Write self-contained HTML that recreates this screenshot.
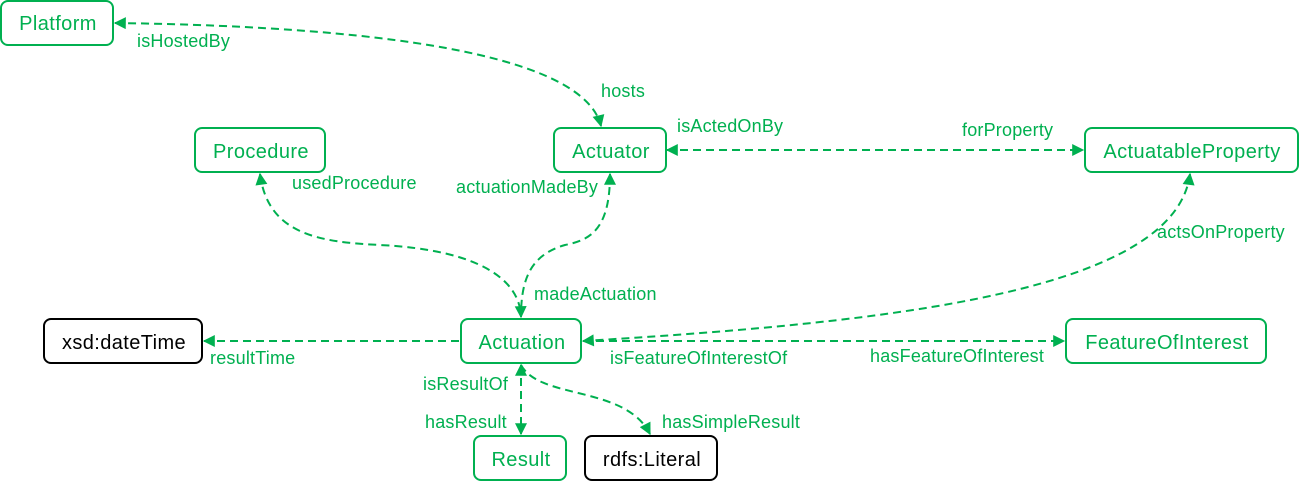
<!DOCTYPE html>
<html><head><meta charset="utf-8">
<style>
html,body{margin:0;padding:0;background:#fff;}
svg{display:block;font-family:"Liberation Sans",Arial,sans-serif;}
</style></head><body>
<svg width="1310" height="482" viewBox="0 0 1310 482" xmlns="http://www.w3.org/2000/svg">
<defs>
<marker id="a" viewBox="0 0 10 10" refX="9" refY="5" markerWidth="13" markerHeight="12" markerUnits="userSpaceOnUse" orient="auto-start-reverse">
<path d="M0,0 L10,5 L0,10 z" fill="#00b050"/>
</marker>
</defs>
<g fill="none" stroke="#00b050" stroke-width="2" stroke-dasharray="8,5">
<path d="M115,23 C410,27 585,60 601,126" marker-start="url(#a)" marker-end="url(#a)"/>
<path d="M667,150 L1083,150" marker-start="url(#a)" marker-end="url(#a)"/>
<path d="M260,174 C268,235 320,242 380,245 C480,250 520,280 521,317" marker-start="url(#a)" marker-end="url(#a)"/>
<path d="M610,174 C610,230 590,240 565,245 C530,255 521,280 521,317"/>
<path d="M610,174 L610,176" marker-start="url(#a)"/>
<path d="M1190,174 C1175,290 900,322 583,341" marker-start="url(#a)" marker-end="url(#a)"/>
<path d="M459,341 L204,341" marker-end="url(#a)"/>
<path d="M583,341 L1064,341" marker-end="url(#a)"/>
<path d="M521,365 L521,434" marker-start="url(#a)" marker-end="url(#a)"/>
<path d="M521,365 C540,400 625,385 650,434" marker-end="url(#a)"/>
</g>
<g fill="#fff" stroke-width="2">
<rect x="1" y="1" width="112" height="44" rx="7" stroke="#00b050"/>
<rect x="195" y="128" width="130" height="44" rx="7" stroke="#00b050"/>
<rect x="554" y="128" width="112" height="44" rx="7" stroke="#00b050"/>
<rect x="1085" y="128" width="213" height="44" rx="7" stroke="#00b050"/>
<rect x="44" y="319" width="158" height="44" rx="7" stroke="#000"/>
<rect x="461" y="319" width="120" height="44" rx="7" stroke="#00b050"/>
<rect x="1066" y="319" width="200" height="44" rx="7" stroke="#00b050"/>
<rect x="474" y="436" width="92" height="44" rx="7" stroke="#00b050"/>
<rect x="585" y="436" width="132" height="44" rx="7" stroke="#000"/>
</g>
<g font-size="20" text-anchor="middle" fill="#00b050" letter-spacing="0.4">
<text x="58" y="30">Platform</text>
<text x="261" y="158">Procedure</text>
<text x="611" y="158">Actuator</text>
<text x="1192" y="158">ActuatableProperty</text>
<text x="124" y="349" fill="#000">xsd:dateTime</text>
<text x="522" y="349">Actuation</text>
<text x="1167" y="349">FeatureOfInterest</text>
<text x="521" y="466">Result</text>
<text x="652" y="466" fill="#000">rdfs:Literal</text>
</g>
<g font-size="18" fill="#00b050" letter-spacing="0.2">
<text x="137" y="47">isHostedBy</text>
<text x="601" y="97">hosts</text>
<text x="677" y="132">isActedOnBy</text>
<text x="962" y="136">forProperty</text>
<text x="292" y="189">usedProcedure</text>
<text x="456" y="193">actuationMadeBy</text>
<text x="1157" y="238">actsOnProperty</text>
<text x="534" y="300">madeActuation</text>
<text x="210" y="364">resultTime</text>
<text x="610" y="364">isFeatureOfInterestOf</text>
<text x="870" y="362">hasFeatureOfInterest</text>
<text x="423" y="390">isResultOf</text>
<text x="425" y="428">hasResult</text>
<text x="662" y="428">hasSimpleResult</text>
</g>
</svg>
</body></html>
